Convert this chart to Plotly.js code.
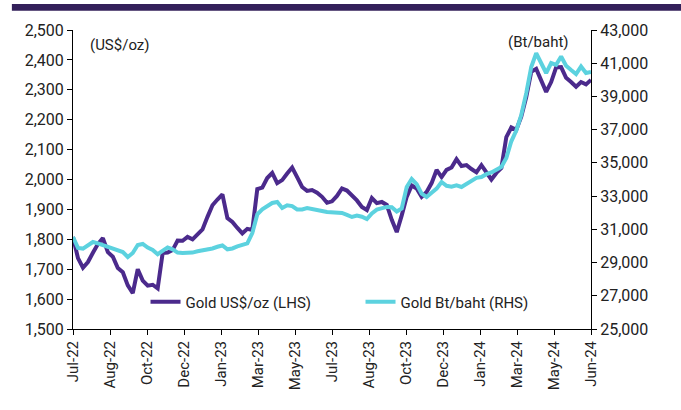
<!DOCTYPE html>
<html>
<head>
<meta charset="utf-8">
<script src="https://cdn.plot.ly/plotly-3.0.1.min.js"></script>
<style>html,body{margin:0;padding:0;background:#fff;}#chart{width:681px;height:410px;}</style>
</head>
<body>
<div id="chart"></div>
<script>
// Weekly observations starting 2022-07-01
const startDate = '2022-07-01';
const endDate = '2024-06-28';
const goldUsd = [
  1808,1737,1705,1724,1755,1784,1804,1757,1742,1704,
  1690,1646,1620,1700,1662,1645,1648,1636,1754,1756,
  1764,1796,1795,1808,1800,1815,1833,1875,1914,1933,
  1950,1871,1858,1838,1820,1835,1831,1968,1973,2005,
  2022,1988,1998,2020,2040,2008,1975,1962,1965,1956,
  1942,1922,1927,1945,1970,1963,1947,1930,1908,1898,
  1938,1921,1925,1915,1865,1824,1880,1942,1980,1970,
  1942,1958,1988,2032,2008,2032,2040,2068,2045,2048,
  2035,2024,2048,2022,2000,2022,2038,2142,2174,2166,
  2210,2276,2360,2370,2333,2293,2326,2375,2376,2340,
  2326,2310,2326,2318,2333
];
const goldThb = [
  30540,29880,29840,30050,30238,30150,30057,29960,29820,29720,
  29636,29334,29575,30057,30120,29900,29760,29500,29700,29910,
  29800,29600,29575,29575,29600,29680,29730,29800,29850,29950,
  30030,29800,29850,29970,30057,30150,30780,31900,32200,32400,
  32585,32646,32284,32450,32400,32200,32200,32280,32240,32150,
  32100,32044,32040,32010,31983,31870,31743,31830,31760,31622,
  31960,32190,32260,32350,32330,32070,32250,33550,34030,33720,
  33150,32950,33200,33450,33850,33620,33570,33650,33550,33720,
  33950,34100,34150,34320,34420,34572,34752,35294,36300,36950,
  37883,39200,40770,41600,41013,40410,41013,40900,41400,40850,
  40590,40350,40800,40410,40470
];
const tickLabels = ['Jul-22','Aug-22','Oct-22','Dec-22','Jan-23','Mar-23','May-23','Jul-23','Aug-23','Oct-23','Dec-23','Jan-24','Mar-24','May-24','Jun-24'];

// build weekly date axis
const dates = [];
const t0 = Date.parse(startDate + 'T00:00:00Z');
for (let i = 0; i < goldUsd.length; i++) {
  dates.push(new Date(t0 + i * 7 * 86400000).toISOString().slice(0, 10));
}
const t1 = Date.parse(endDate + 'T00:00:00Z');
const tickVals = tickLabels.map((_, i) =>
  new Date(t0 + (t1 - t0) * i / (tickLabels.length - 1)).toISOString().slice(0, 10));

const font = {family: 'Roboto, "Liberation Sans", sans-serif', size: 15, color: '#222'};
const yfont = {family: 'Roboto, "Liberation Sans", sans-serif', size: 16, color: '#222'};

const traces = [
  {x: dates, y: goldUsd, type: 'scatter', mode: 'lines', name: 'Gold US$/oz (LHS)',
   line: {color: '#4b2a8c', width: 4}, yaxis: 'y'},
  {x: dates, y: goldThb, type: 'scatter', mode: 'lines', name: 'Gold Bt/baht (RHS)',
   line: {color: '#5cd2df', width: 4}, yaxis: 'y2'}
];

const layout = {
  width: 681, height: 410,
  margin: {l: 73, r: 90, t: 30, b: 81},
  paper_bgcolor: '#fff', plot_bgcolor: '#fff',
  font: font,
  showlegend: true,
  legend: {orientation: 'h', x: 0.14, y: 0.09, xanchor: 'left', yanchor: 'middle',
           bgcolor: 'rgba(0,0,0,0)', font: font, entrywidth: 170, entrywidthmode: 'pixels'},
  xaxis: {type: 'date', range: [startDate, endDate], tickmode: 'array', tickvals: tickVals,
          ticktext: tickLabels, tickangle: -90, ticks: 'outside', ticklen: 5, tickcolor: '#000',
          showline: true, linecolor: '#000', linewidth: 1, showgrid: false, zeroline: false,
          tickfont: font},
  yaxis: {range: [1500, 2500], tick0: 1500, dtick: 100, tickformat: ',d', ticks: 'outside', ticklen: 5,
          tickcolor: '#000', showline: true, linecolor: '#000', linewidth: 1, showgrid: false,
          zeroline: false, tickfont: yfont},
  yaxis2: {range: [25000, 43000], tick0: 25000, dtick: 2000, tickformat: ',d', overlaying: 'y', side: 'right',
           ticks: 'outside', ticklen: 5, tickcolor: '#000', showline: true, linecolor: '#000',
           linewidth: 1, showgrid: false, zeroline: false, tickfont: yfont},
  shapes: [
    {type: 'rect', xref: 'paper', yref: 'paper', x0: -0.118, x1: 1.2, y0: 1.064, y1: 1.087,
     fillcolor: '#33205a', line: {width: 0}}
  ],
  annotations: [
    {text: '(US$/oz)', xref: 'paper', yref: 'paper', x: 0.029, y: 0.95, xanchor: 'left',
     yanchor: 'middle', showarrow: false, font: font},
    {text: '(Bt/baht)', xref: 'paper', yref: 'paper', x: 0.962, y: 0.96, xanchor: 'right',
     yanchor: 'middle', showarrow: false, font: font}
  ]
};

Plotly.newPlot('chart', traces, layout, {displayModeBar: false, staticPlot: true});
</script>
</body>
</html>
